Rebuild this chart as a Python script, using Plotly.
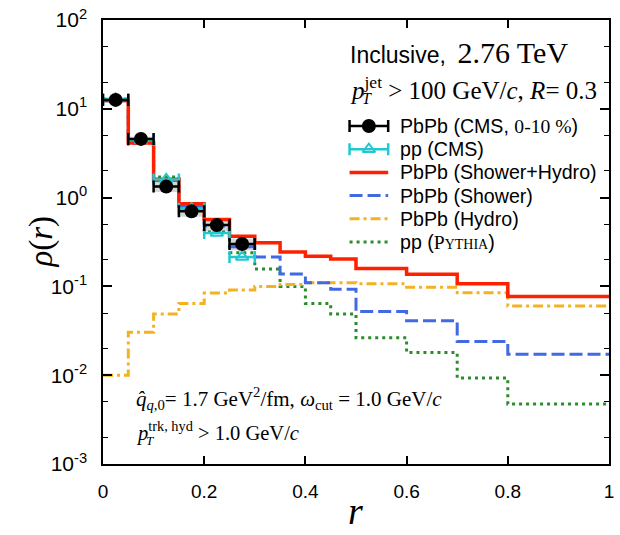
import plotly.graph_objects as go

# ---------------- data ----------------
bin_edges = [0, 0.05, 0.1, 0.15, 0.2, 0.25, 0.3, 0.35, 0.4, 0.45, 0.5, 0.6, 0.7, 0.8, 1.0]
shower_hydro = [12.4, 4.13, 1.61, 0.85, 0.566, 0.366, 0.31, 0.244, 0.219, 0.203, 0.159, 0.137, 0.107, 0.077]
shower = [12.3, 4.08, 1.56, 0.80, 0.48, 0.28, 0.215, 0.138, 0.110, 0.093, 0.052, 0.041, 0.024, 0.0172]
hydro = [0.010, 0.0305, 0.049, 0.064, 0.084, 0.091, 0.100, 0.105, 0.110, 0.110, 0.107, 0.098, 0.085, 0.060]
pythia = [12.9, 4.3, 1.71, 0.82, 0.41, 0.24, 0.157, 0.0995, 0.064, 0.049, 0.0264, 0.018, 0.0093, 0.00475]

data_r = [0.025, 0.075, 0.125, 0.175, 0.225, 0.275]
data_halfwidth = [0.025, 0.025, 0.025, 0.025, 0.025, 0.025]
pbpb_cms = [12.6, 4.58, 1.33, 0.70, 0.49, 0.30]
pbpb_sys = [0.05, 0.06, 0.13, 0.13, 0.14, 0.15]   # relative systematic uncertainty
pp_cms = [12.9, 4.45, 1.60, 0.75, 0.40, 0.215]

y_tickvals = [1e-3, 1e-2, 1e-1, 1e0, 1e1, 1e2]
y_ticktext = ["10<sup>-3</sup>", "10<sup>-2</sup>", "10<sup>-1</sup>", "10<sup>0</sup>", "10<sup>1</sup>", "10<sup>2</sup>"]
x_tickvals = [0, 0.2, 0.4, 0.6, 0.8, 1.0]
x_ticktext = ["0", "0.2", "0.4", "0.6", "0.8", "1"]

# ---------------- style / layout ----------------
W, H = 620, 535
ML, MR, MT, MB = 103, 6, 16, 71
PW, PH = W - ML - MR, H - MT - MB
YLOG0, YLOG1 = -3, 2
SANS = "Liberation Sans"
SERIF = "Liberation Serif"
RED = "#ff2000"
BLUE = "#4169e1"
ORANGE = "#f4b223"
GREEN = "#2a8c2a"
CYAN = "#1fc9d3"


def paper_x(px):
    return (px - ML) / PW


def paper_y(py):
    return (H - MB - py) / PH


def data_x(px):          # x axis spans [0, 1]
    return paper_x(px)


def data_y(py):          # log y axis
    return 10 ** (YLOG0 + (YLOG1 - YLOG0) * paper_y(py))


def step(vals):
    return list(bin_edges), list(vals) + [vals[-1]]


fig = go.Figure()

# systematic boxes for PbPb data
lo = [v * (1 - s) for v, s in zip(pbpb_cms, pbpb_sys)]
hi = [v * (1 + s) for v, s in zip(pbpb_cms, pbpb_sys)]
fig.add_trace(go.Bar(x=data_r, base=lo, y=[h - l for h, l in zip(hi, lo)],
                     width=[2 * w for w in data_halfwidth],
                     marker=dict(color="#d6d6d6", line=dict(width=0)), hoverinfo="skip"))

curves = [
    (pythia, GREEN, "3px,4px", 3),
    (hydro, ORANGE, "10px,4px,3px,4px", 3),
    (shower, BLUE, "13px,5px", 3),
    (shower_hydro, RED, "solid", 3.5),
]
for vals, col, dash, lw in curves:
    xs, ys = step(vals)
    fig.add_trace(go.Scatter(x=xs, y=ys, mode="lines", line=dict(color=col, width=lw, dash=dash, shape="hv")))

fig.add_trace(go.Scatter(x=data_r, y=pp_cms, mode="markers",
                         marker=dict(symbol="triangle-up-open", size=11, color=CYAN, line=dict(width=2, color=CYAN)),
                         error_x=dict(type="data", array=data_halfwidth, width=6, thickness=2.5, color=CYAN)))
fig.add_trace(go.Scatter(x=data_r, y=pbpb_cms, mode="markers",
                         marker=dict(symbol="circle", size=14, color="black"),
                         error_x=dict(type="data", array=data_halfwidth, width=6, thickness=2.5, color="black")))

# ---------------- legend (swatches placed from layout pixel positions) ----------------
leg_x0, leg_x1, leg_text_x = 352, 391, 401
leg_y0, leg_dy = 123, 23.4
leg_rows = [leg_y0 + i * leg_dy for i in range(6)]
xc = (leg_x0 + leg_x1) / 2
half = (leg_x1 - leg_x0) / 2 / PW

fig.add_trace(go.Scatter(x=[data_x(xc)], y=[data_y(leg_rows[0])], mode="markers", cliponaxis=False,
                         marker=dict(symbol="circle", size=14, color="black"),
                         error_x=dict(type="constant", value=half, width=6, thickness=2.5, color="black")))
fig.add_trace(go.Scatter(x=[data_x(xc)], y=[data_y(leg_rows[1])], mode="markers", cliponaxis=False,
                         marker=dict(symbol="triangle-up-open", size=11, color=CYAN, line=dict(width=2, color=CYAN)),
                         error_x=dict(type="constant", value=half, width=6, thickness=2.5, color=CYAN)))
for row, (vals, col, dash, lw) in zip(leg_rows[2:], [curves[3], curves[2], curves[1], curves[0]]):
    fig.add_trace(go.Scatter(x=[data_x(leg_x0), data_x(leg_x1)], y=[data_y(row), data_y(row)], mode="lines",
                             line=dict(color=col, width=lw, dash=dash)))

leg_labels = [
    f"PbPb (CMS, <span style='font-family:{SERIF}'>0-10 %</span>)",
    "pp (CMS)",
    "PbPb (Shower+Hydro)",
    "PbPb (Shower)",
    "PbPb (Hydro)",
    f"pp (<span style='font-family:{SERIF}'>P<span style='font-size:14px'>YTHIA</span></span>)",
]
annotations = []


def ann(px, py, text, family, size, **kw):
    d = dict(x=paper_x(px), y=paper_y(py), xref="paper", yref="paper", text=text, showarrow=False,
             xanchor="left", yanchor="middle", font=dict(family=family, size=size, color="black"))
    d.update(kw)
    annotations.append(d)


for row, lab in zip(leg_rows, leg_labels):
    ann(leg_text_x, row, lab, SANS, 19.6)

# header texts
ann(350, 49, f"Inclusive,\u2002<span style='font-family:{SERIF};font-size:30px'>2.76 TeV</span>", SANS, 23)
ann(350, 85, "<i>p</i><sup>jet</sup> > 100 GeV/<i>c</i>, <i>R</i>= 0.3", SERIF, 25)
ann(363, 95, "<i>T</i>", SERIF, 16)

# bottom-left texts
ann(134, 398, "<i>q\u0302</i><sub><i>q</i>,0</sub>= 1.7 GeV<sup>2</sup>/fm, <i>ω</i><sub>cut</sub> = 1.0 GeV/<i>c</i>",
    SERIF, 21)
ann(134, 431, "<i>p</i><sup>trk, hyd</sup> > 1.0 GeV/<i>c</i>", SERIF, 20.5)
ann(144, 440, "<i>T</i>", SERIF, 13)

# axis titles
ann(40, 240, "<i>ρ</i>(<i>r</i>)", SERIF, 33, xanchor="center", textangle=-90)
ann(358, 511, "<i>r</i>", SERIF, 38, xanchor="center")

fig.update_layout(
    width=W, height=H, margin=dict(l=ML, r=MR, t=MT, b=MB),
    paper_bgcolor="white", plot_bgcolor="white", showlegend=False, barmode="overlay",
    annotations=annotations,
    xaxis=dict(range=[0, 1], tickvals=x_tickvals, ticktext=x_ticktext, ticks="inside", ticklen=8, tickwidth=1.5,
               tickcolor="black", showline=True, linecolor="black", linewidth=1.5, mirror="ticks",
               showgrid=False, zeroline=False, ticklabelstandoff=9,
               tickfont=dict(family=SANS, size=19, color="black")),
    yaxis=dict(type="log", range=[YLOG0, YLOG1], tickvals=y_tickvals, ticktext=y_ticktext, ticks="inside",
               ticklen=9, tickwidth=1.5, tickcolor="black", showline=True, linecolor="black", linewidth=1.5,
               mirror="ticks", showgrid=False, zeroline=False, ticklabelstandoff=10,
               minor=dict(dtick="D2", ticks="inside", ticklen=5, tickwidth=1.2, tickcolor="black", showgrid=False),
               tickfont=dict(family=SANS, size=21, color="black")),
)

fig.write_html("out.html", config={"displayModeBar": False},
               post_script="document.body.style.margin='0px';document.body.style.overflow='hidden';")
